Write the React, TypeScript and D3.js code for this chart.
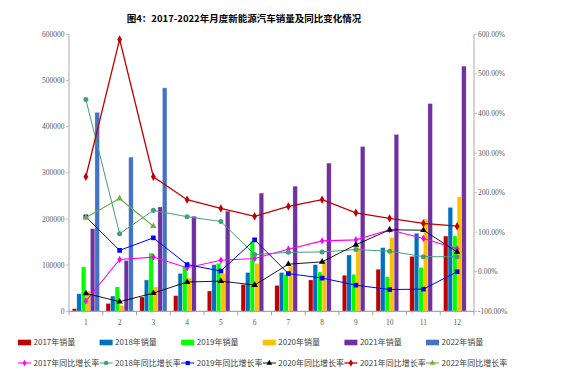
import React from 'react';
import * as d3 from 'd3';

const months = ['1', '2', '3', '4', '5', '6', '7', '8', '9', '10', '11', '12'];
const salesYears = ['2017', '2018', '2019', '2020', '2021', '2022'];
const sales2017 = [5700, 17000, 31000, 34000, 44000, 58000, 56000, 68000, 78000, 91000, 119000, 163000];
const sales2018 = [38000, 33000, 68000, 82000, 101000, 84000, 84000, 101000, 122000, 138000, 169000, 225000];
const sales2019 = [96000, 53000, 126000, 97000, 104000, 152000, 80000, 85000, 80000, 75000, 95000, 163000];
const sales2020 = [44000, 13000, 53000, 72000, 82000, 104000, 98000, 109000, 138000, 160000, 200000, 248000];
const sales2021 = [179000, 110000, 226000, 206000, 217000, 256000, 271000, 321000, 357000, 383000, 450000, 531000];
const sales2022 = [431000, 334000, 484000];

const growth2017 = [-74, 31, 37, 10, 29, 33.5, 57, 78, 80.6, 106, 84, 58];
const growth2018 = [435, 96, 155, 139, 127, 43.6, 49, 50, 56, 52, 38, 38];
const growth2019 = [138.5, 54, 85.6, 18, 1.8, 80.6, -4.7, -16, -34, -45, -44, 0];
const growth2020 = [-54.7, -75.6, -54, -26, -23.7, -33.7, 19, 25, 68, 106, 105, 50];
const growth2021 = [240, 587, 240, 182, 160, 140, 165, 182, 149, 135, 122, 115];
const growth2022 = [137, 185, 115];

const leftTicks = [0, 100000, 200000, 300000, 400000, 500000, 600000];
const rightTicks = [-100, 0, 100, 200, 300, 400, 500, 600];

const barColors = ['#c00000', '#0070c0', '#00ff00', '#ffc000', '#7030a0', '#4472c4'];

const lineSeries = [
  { name: '2017年同比增长率', values: growth2017, color: '#ff00ff', symbol: d3.symbolDiamond, size: 16, width: 1.1 },
  { name: '2018年同比增长率', values: growth2018, color: '#44a077', symbol: d3.symbolCircle, size: 20, width: 1 },
  { name: '2019年同比增长率', values: growth2019, color: '#0000ff', symbol: d3.symbolSquare, size: 22, width: 1 },
  { name: '2020年同比增长率', values: growth2020, color: '#000000', symbol: d3.symbolTriangle, size: 18, width: 0.9 },
  { name: '2021年同比增长率', values: growth2021, color: '#c00000', symbol: d3.symbolDiamond, size: 20, width: 1.3 },
  { name: '2022年同比增长率', values: growth2022, color: '#70ad47', symbol: d3.symbolTriangle, size: 18, width: 1.1 },
];

const W = 567;
const H = 385;
const left = 69;
const right = 474;
const top = 34.3;
const bottom = 311.3;

const axisFont = '"Liberation Serif", "DejaVu Serif", serif';
const cjkFont = '"Noto Sans CJK SC", "Noto Sans", sans-serif';

export default function App() {
  const salesData = [sales2017, sales2018, sales2019, sales2020, sales2021, sales2022];

  const x = d3.scaleBand<string>().domain(months).range([left, right]).padding(0);
  const xInner = d3.scaleBand<string>().domain(salesYears).range([3.3, x.bandwidth() - 3.3]).padding(0);
  const yLeft = d3.scaleLinear().domain([0, 600000]).range([bottom, top]);
  const yRight = d3.scaleLinear().domain([-100, 600]).range([bottom, top]);

  const fmtPct = (d: number) => d.toFixed(2) + '%';

  return (
    <>
      <style>{'body{margin:0;background:#fff}'}</style>
      <svg width={W} height={H} style={{ display: 'block', background: '#fff' }}>
        {/* title */}
        <text x={244} y={22} textAnchor="middle" fontFamily={cjkFont} fontWeight="bold" fontSize={9.5} fill="#000">
          图4：2017-2022年月度新能源汽车销量及同比变化情况
        </text>

        {/* bars */}
        {salesData.map((series, si) => (
          <g key={si}>
            {series.map((v, i) => (
              <rect
                key={i}
                x={(x(months[i]) as number) + (xInner(salesYears[si]) as number)}
                y={yLeft(v)}
                width={xInner.bandwidth()}
                height={bottom - yLeft(v)}
                fill={barColors[si]}
                stroke="#ffffff"
                strokeOpacity={0.45}
                strokeWidth={0.6}
              />
            ))}
          </g>
        ))}

        {/* axes */}
        <line x1={left} x2={left} y1={top} y2={bottom} stroke="#bfbfbf" strokeWidth={1.3} />
        <line x1={right} x2={right} y1={top} y2={bottom} stroke="#bfbfbf" strokeWidth={1.3} />
        <line x1={left} x2={right} y1={bottom} y2={bottom} stroke="#a6a6a6" strokeWidth={1.3} />

        {leftTicks.map(t => (
          <g key={t}>
            <line x1={left - 3} x2={left} y1={yLeft(t)} y2={yLeft(t)} stroke="#bfbfbf" />
            <text x={left - 4.5} y={yLeft(t)} dy="0.35em" textAnchor="end" fontFamily={axisFont} fontSize={7.5} fill="#595959">
              {t}
            </text>
          </g>
        ))}

        {rightTicks.map(t => (
          <g key={t}>
            <line x1={right} x2={right + 3} y1={yRight(t)} y2={yRight(t)} stroke="#bfbfbf" />
            <text x={right + 4} y={yRight(t)} dy="0.35em" textAnchor="start" fontFamily={axisFont} fontSize={7.5} fill="#595959">
              {fmtPct(t)}
            </text>
          </g>
        ))}

        {months.map((m, i) => (
          <g key={m}>
            <line
              x1={(x(m) as number) + x.bandwidth()}
              x2={(x(m) as number) + x.bandwidth()}
              y1={bottom}
              y2={bottom + 4}
              stroke="#a6a6a6"
            />
            {i === 0 && <line x1={left} x2={left} y1={bottom} y2={bottom + 4} stroke="#a6a6a6" />}
            <text
              x={(x(m) as number) + x.bandwidth() / 2}
              y={bottom + 11}
              dy="0.35em"
              textAnchor="middle"
              fontFamily={axisFont}
              fontSize={7.5}
              fill="#595959"
            >
              {m}
            </text>
          </g>
        ))}

        {/* growth lines */}
        {lineSeries.map(s => {
          const line = d3
            .line<number>()
            .x((_, i) => (x(months[i]) as number) + x.bandwidth() / 2)
            .y(d => yRight(d));
          const sym = d3.symbol().type(s.symbol).size(s.size)();
          return (
            <g key={s.name}>
              <path d={line(s.values) || ''} fill="none" stroke={s.color} strokeWidth={s.width} />
              {s.values.map((v, i) => (
                <path
                  key={i}
                  d={sym || ''}
                  transform={`translate(${(x(months[i]) as number) + x.bandwidth() / 2},${yRight(v)})`}
                  fill={s.color}
                />
              ))}
            </g>
          );
        })}

        {/* legend row 1 */}
        {salesYears.map((yr, i) => (
          <g key={yr} transform={`translate(${18 + i * 81.6},342.5)`}>
            <rect x={0} y={-2.8} width={13} height={5.6} fill={barColors[i]} />
            <text x={15.5} y={0} dy="0.35em" fontFamily={cjkFont} fontSize={8} fill="#404040">
              {yr}年销量
            </text>
          </g>
        ))}

        {/* legend row 2 */}
        {lineSeries.map((s, i) => {
          const sym = d3.symbol().type(s.symbol).size(s.size * 0.8)();
          return (
            <g key={s.name} transform={`translate(${18 + i * 81.6},363)`}>
              <line x1={0} x2={13} y1={0} y2={0} stroke={s.color} strokeWidth={s.width} />
              <path d={sym || ''} transform="translate(6.5,0)" fill={s.color} />
              <text x={15.5} y={0} dy="0.35em" fontFamily={cjkFont} fontSize={8} fill="#404040">
                {s.name}
              </text>
            </g>
          );
        })}
      </svg>
    </>
  );
}
